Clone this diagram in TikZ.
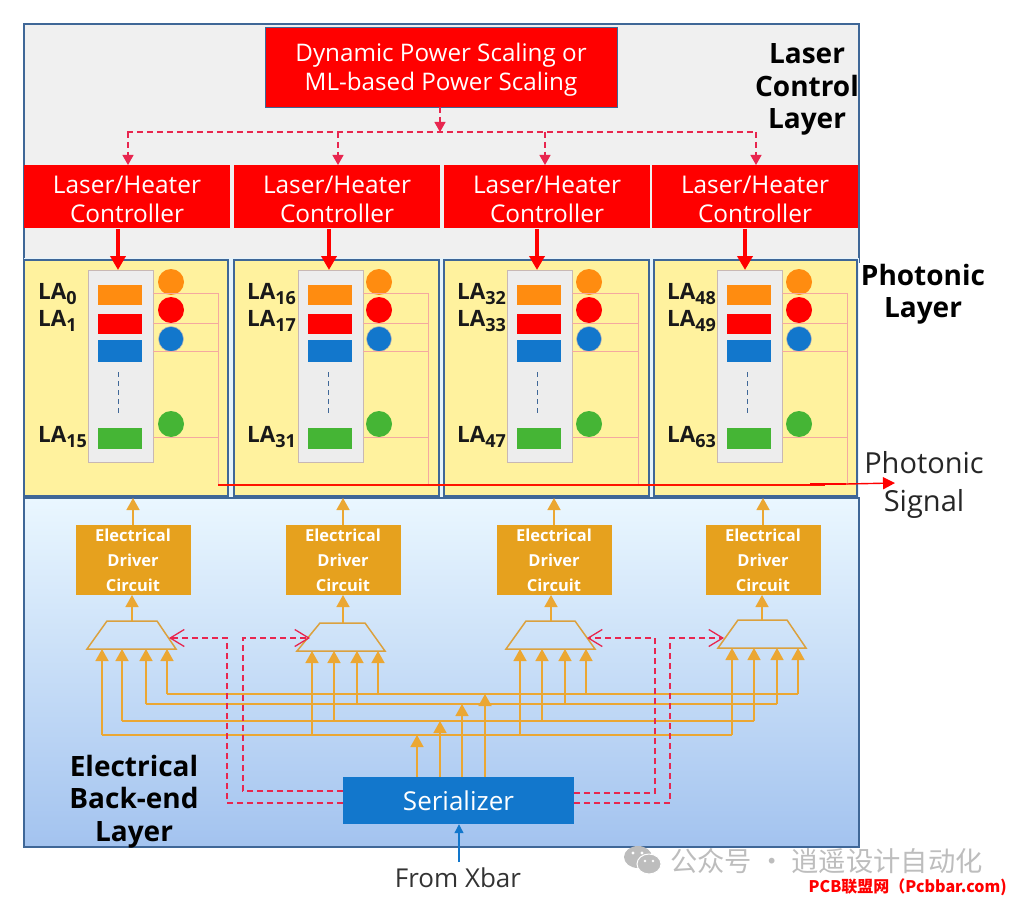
\documentclass[tikz,border=0pt]{standalone}
\usepackage{fontspec}
\setmainfont{Open Sans}
\newfontfamily\cjkfont{Noto Sans CJK SC}
\usetikzlibrary{arrows.meta}
\definecolor{layerline}{HTML}{3F6797}
\definecolor{topgray}{HTML}{F0F0F0}
\definecolor{panelyellow}{HTML}{FFF29E}
\definecolor{gapblue}{HTML}{E6F4FC}
\definecolor{bandtop}{HTML}{EAF7FF}
\definecolor{bandbot}{HTML}{A3C3EF}
\definecolor{ctrlred}{HTML}{FF0000}
\definecolor{dashred}{HTML}{E8264F}
\definecolor{orangebar}{HTML}{FF8C10}
\definecolor{bluebar}{HTML}{1277CC}
\definecolor{greenbar}{HTML}{45B535}
\definecolor{pinkline}{HTML}{F4A9A0}
\definecolor{amber}{HTML}{E6A11E}
\definecolor{wiregold}{HTML}{EBA733}
\definecolor{grayinner}{HTML}{EDEDED}
\definecolor{innerline}{HTML}{C8B8B4}
\definecolor{markgray}{HTML}{BDBDBD}
\tikzset{
  x=1pt,y=-1pt,
  redbox/.style={fill=ctrlred,text=white,inner sep=0pt,align=center},
  topfont/.style={font=\fontsize{24.2}{29}\selectfont},
  ctrlfont/.style={font=\fontsize{24.4}{29}\selectfont},
  headfont/.style={font=\fontsize{28}{32.5}\selectfont\bfseries,text=black,align=center,inner sep=0pt},
  plainfont/.style={font=\fontsize{29}{38}\selectfont,text=black!85,align=center,inner sep=0pt},
  lafont/.style={font=\fontsize{22.5}{22}\selectfont\bfseries,text=black!90,inner sep=0pt,anchor=west},
  drvbox/.style={fill=amber,text=white,inner sep=0pt,align=center,minimum width=115pt,minimum height=70pt,
     font=\fontsize{16.5}{25}\selectfont\bfseries},
  wire/.style={draw=wiregold,line width=1.4pt},
  wirearrow/.style={wire,-{Triangle[length=12pt,width=13pt]}},
  ctrldash/.style={draw=dashred,line width=1.2pt,dash pattern=on 6pt off 4pt},
  ctrlarrow/.style={ctrldash,-{Straight Barb[length=14pt,width=17pt,line width=1.3pt]}},
  busarrow/.style={ctrldash,-{Triangle[length=10pt,width=11pt]}},
  feed/.style={draw=ctrlred,line width=3.5pt,-{Triangle[length=14pt,width=15pt]}},
  pink/.style={draw=pinkline,line width=0.9pt},
}
\begin{document}
\begin{tikzpicture}
\useasboundingbox (0,0) rectangle (1011,901);
% layers
\path[fill=topgray,draw=layerline,line width=1.2pt] (24,24) rectangle (859,262);
\path[fill=gapblue] (24,258) rectangle (859,498);
\path[top color=bandtop,bottom color=bandbot,draw=layerline,line width=1.4pt] (24,498) rectangle (859,847);
% top block
\node[redbox,topfont,draw=layerline,line width=0.8pt,minimum width=352pt,minimum height=80pt] (scale) at (441,67) {};
\node[text=white,inner sep=0pt,align=center,topfont] (scaletext) at (441,70)
  {Dynamic Power Scaling or\\ML-based Power Scaling};
\node[headfont] (lasertitle) at (807,89.5) {Laser\\Control\\Layer};
\node[headfont] (phototitle) at (923,294) {Photonic\\Layer};
\node[plainfont] (signaltitle) at (924,485) {Photonic\\Signal};
\node[headfont] (backtitle) at (134,801.5) {Electrical\\Back-end\\Layer};
% dashed control bus
\coordinate (busjoin) at (440,132);
\coordinate (busleft) at (127,132);
\coordinate (busright) at (756,132);
\coordinate (scaleout) at (440,107);
\draw[busarrow] (scaleout) -- (busjoin);
\draw[ctrldash] (busleft) -- (busright);
% panels
\foreach \i/\yl/\yr/\gl/\rl/\cc/\dsh/\vx/\lbl/\la/\lb/\lc/\fx/\tx/\bx in {
 1/24/228/88/98/171/118/218/38/0/1/15/118/127/128,
 2/234/439/298/308/379/328/428/247/16/17/31/329/337/338,
 3/444/649/507/517/589/537/638/457/32/33/47/537/547/545,
 4/654/857/717/727/799/747/847/667/48/49/63/745/755/756}{
  \path[fill=panelyellow,draw=layerline,line width=1.5pt] (\yl,260) rectangle (\yr,496);
  \node[redbox,minimum width=206pt,minimum height=63pt] (ctrl\i) at (\tx,197) {};
  \node[text=white,inner sep=0pt,align=center,ctrlfont] (ctrltext\i) at (\tx,199) {Laser/Heater\\Controller};
  \coordinate (busdrop\i) at (\bx,132);
  \coordinate (ctrlin\i) at (\bx,165);
  \draw[busarrow] (busdrop\i) -- (ctrlin\i);
  \path[fill=grayinner,draw=innerline,line width=0.8pt] (\gl,270) rectangle ++(65,192);
  \node[fill=orangebar,inner sep=0pt,minimum width=44pt,minimum height=20pt,anchor=north west] (barA\i) at (\rl,285) {};
  \node[fill=ctrlred,inner sep=0pt,minimum width=44pt,minimum height=20pt,anchor=north west] (barB\i) at (\rl,314) {};
  \node[fill=bluebar,inner sep=0pt,minimum width=44pt,minimum height=22pt,anchor=north west] (barC\i) at (\rl,340) {};
  \node[fill=greenbar,inner sep=0pt,minimum width=44pt,minimum height=21pt,anchor=north west] (barD\i) at (\rl,428) {};
  \coordinate (dotsT\i) at (\dsh,372);
  \coordinate (dotsB\i) at (\dsh,416);
  \draw[draw=layerline,line width=1pt,dash pattern=on 5pt off 4pt] (dotsT\i) -- (dotsB\i);
  \node[circle,fill=orangebar,inner sep=0pt,minimum size=26pt] (ringA\i) at (\cc,282) {};
  \node[circle,fill=ctrlred,inner sep=0pt,minimum size=26pt] (ringB\i) at (\cc,310) {};
  \node[circle,fill=bluebar,draw=innerline,line width=0.5pt,inner sep=0pt,minimum size=25pt] (ringC\i) at (\cc,339) {};
  \node[circle,fill=greenbar,inner sep=0pt,minimum size=26pt] (ringD\i) at (\cc,424) {};
  \coordinate (tapA\i) at (\gl+65,293);
  \coordinate (tapB\i) at (\gl+65,323);
  \coordinate (tapC\i) at (\gl+65,351);
  \coordinate (tapD\i) at (\gl+65,437);
  \coordinate (jA\i) at (\vx,293);
  \coordinate (jB\i) at (\vx,323);
  \coordinate (jC\i) at (\vx,351);
  \coordinate (jD\i) at (\vx,437);
  \coordinate (jE\i) at (\vx,485);
  \draw[pink] (tapA\i) -- (jA\i);
  \draw[pink] (tapB\i) -- (jB\i);
  \draw[pink] (tapC\i) -- (jC\i);
  \draw[pink] (tapD\i) -- (jD\i);
  \draw[pink] (jA\i) -- (jE\i);
  \node[lafont] (labA\i) at (\lbl,294) {LA\textsubscript{\fontsize{18}{18}\selectfont\la}};
  \node[lafont] (labB\i) at (\lbl,321) {LA\textsubscript{\fontsize{18}{18}\selectfont\lb}};
  \node[lafont] (labC\i) at (\lbl,437) {LA\textsubscript{\fontsize{18}{18}\selectfont\lc}};
  \coordinate (feedT\i) at (\fx,229);
  \coordinate (feedB\i) at (\fx,270);
  \draw[feed] (feedT\i) -- (feedB\i);
}
% optical output
\coordinate (sigend) at (895,483);
\coordinate (sigmid) at (810,484);
\coordinate (sigthick) at (846,484);
\coordinate (sigline) at (825,485);
\draw[draw=ctrlred!85!orange,line width=1.1pt] (jE1) -- (sigline);
\draw[draw=ctrlred,line width=2.4pt] (sigmid) -- (sigthick);
\draw[draw=ctrlred,line width=1.4pt,-{Triangle[length=12pt,width=12pt]}] (sigthick) -- (sigend);
% drivers and muxes
\foreach \i/\dx/\mo/\tl/\tr/\bl/\br/\ty/\by/\sx in {
 1/133/132/107/157/87/176/621/649/169,
 2/343/343/320/365/297/385/623/651/310,
 3/554/551/526/575/506/595/621/649/587,
 4/763/762/738/787/718/806/620/648/724}{
  \node[drvbox] (drv\i) at (\dx,560) {Electrical\\Driver\\Circuit};
  \coordinate (drvup\i) at (\dx,498);
  \draw[wirearrow] (drv\i.north) -- (drvup\i);
  \coordinate (muxTL\i) at (\tl,\ty);
  \coordinate (muxTR\i) at (\tr,\ty);
  \coordinate (muxBR\i) at (\br,\by);
  \coordinate (muxBL\i) at (\bl,\by);
  \draw[draw=wiregold!85!gray,line width=1.5pt] (muxTL\i) -- (muxTR\i) -- (muxBR\i) -- (muxBL\i) -- cycle;
  \coordinate (muxOut\i) at (\mo,\ty);
  \coordinate (drvIn\i) at (\mo,595);
  \draw[wirearrow] (muxOut\i) -- (drvIn\i);
  \coordinate (muxSel\i) at (\sx,638);
}
% serializer
\node[fill=bluebar,text=white,inner sep=0pt,minimum width=231pt,minimum height=47pt,font=\fontsize{26}{30}\selectfont] (ser) at (458.5,800.5) {Serializer};
% four data buses
\foreach \y/\xa/\xb/\xc/\xd/\lev in {
 735/102/312/520/732/a,
 721/122/334/542/754/b,
 704/146/357/565/777/c,
 694/167/378/586/798/d}{
  \coordinate (bus\lev L) at (\xa,\y);
  \coordinate (bus\lev R) at (\xd,\y);
  \draw[wire] (bus\lev L) -- (bus\lev R);
  \foreach \xx/\tp/\n in {\xa/649/1,\xb/651/2,\xc/649/3,\xd/648/4}{
    \coordinate (tap\lev\n) at (\xx,\y);
    \coordinate (in\lev\n) at (\xx,\tp);
    \draw[wirearrow] (tap\lev\n) -- (in\lev\n);
  }
}
% serializer data outputs
\foreach \xx/\y/\n in {417/735/1,440/721/2,462/704/3,485/694/4}{
  \coordinate (serOut\n) at (\xx,777);
  \coordinate (serTo\n) at (\xx,\y);
  \draw[wirearrow] (serOut\n) -- (serTo\n);
}
% dashed select lines
\coordinate (sA0) at (343,803);
\coordinate (sA1) at (227,803);
\coordinate (sA2) at (227,638);
\draw[ctrlarrow] (sA0) -- (sA1) -- (sA2) -- (muxSel1);
\coordinate (sB0) at (343,791);
\coordinate (sB1) at (243,791);
\coordinate (sB2) at (243,638);
\draw[ctrlarrow] (sB0) -- (sB1) -- (sB2) -- (muxSel2);
\coordinate (sC0) at (574,793);
\coordinate (sC1) at (655,793);
\coordinate (sC2) at (655,638);
\draw[ctrlarrow] (sC0) -- (sC1) -- (sC2) -- (muxSel3);
\coordinate (sD0) at (574,803);
\coordinate (sD1) at (670,803);
\coordinate (sD2) at (670,638);
\draw[ctrlarrow] (sD0) -- (sD1) -- (sD2) -- (muxSel4);
% input
\node[font=\fontsize{26}{30}\selectfont,text=black!80,inner sep=0pt] (xbar) at (458,878) {From Xbar};
\coordinate (xbarup) at (459,862);
\draw[draw=bluebar,line width=1.2pt,-{Triangle[length=9pt,width=9pt]}] (xbarup) -- (ser.south -| xbarup);
% watermark
\path[fill=markgray] (638,857) ellipse [x radius=14,y radius=11];
\path[fill=markgray,draw=white,line width=1pt] (649,864) ellipse [x radius=12,y radius=10];
\path[fill=white] (633,853) circle [radius=1.7] (642,853) circle [radius=1.7] (645,861) circle [radius=1.4] (653,861) circle [radius=1.4];
\node[font=\cjkfont\fontsize{27.3}{30}\selectfont,text=markgray,inner sep=0pt,anchor=west] (mark) at (670,861) {公众号 · 逍遥设计自动化};
\node[font=\cjkfont\fontsize{16}{20}\selectfont\bfseries,text=ctrlred,inner sep=0pt,anchor=east] (site) at (1007,887) {PCB联盟网（Pcbbar.com)};
\end{tikzpicture}
\end{document}
